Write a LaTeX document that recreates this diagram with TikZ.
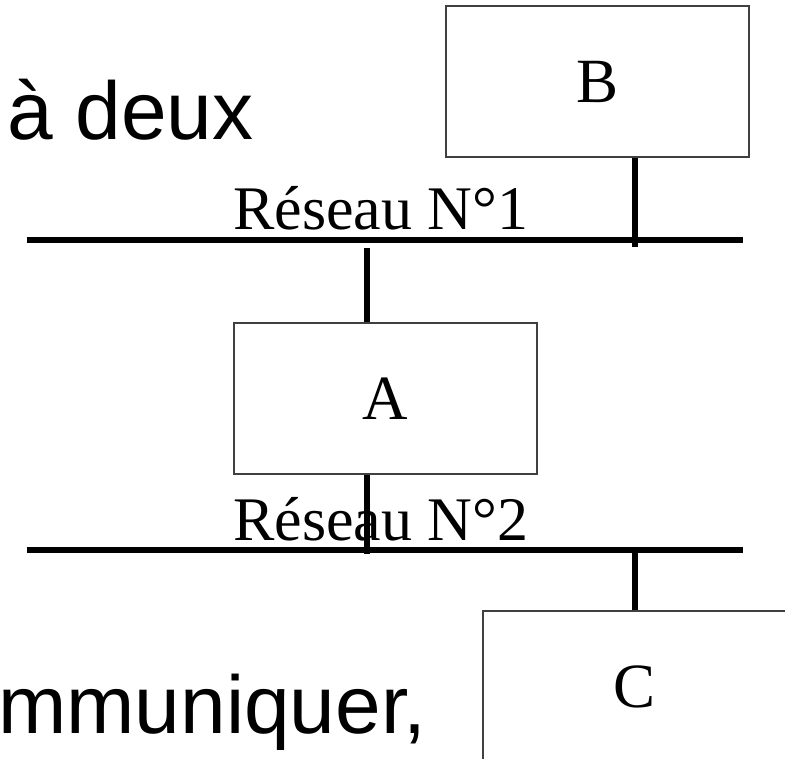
\documentclass[tikz,border=0pt]{standalone}
\usepackage{fontspec}
\setmainfont{Liberation Serif}
\newfontfamily\arialfont{Liberation Sans}
\begin{document}
\begin{tikzpicture}[x=1pt, y=-1pt,
  hostbox/.style={draw=black!75, line width=1.2pt, fill=white,
    minimum width=303pt, minimum height=151pt, inner sep=0pt,
    font=\fontsize{63}{70}\selectfont},
  netlabel/.style={anchor=base west, inner sep=0pt,
    font=\fontsize{62}{70}\selectfont},
  bodytext/.style={inner sep=0pt, font=\arialfont\fontsize{82}{90}\selectfont},
  netline/.style={line width=6.5pt},
  tapline/.style={line width=6.8pt}]
  \useasboundingbox (0,0) rectangle (785,759);
  \clip (0,0) rectangle (785,759);

  % background slide text
  \node[bodytext, anchor=base west] (txtdeux) at (7,140) {à deux};
  \node[bodytext, anchor=base east] (txtcomm) at (427,733) {mmuniquer,};

  % hosts
  \node[hostbox] (B) at (597.5,81.5) {B};
  \node[hostbox] (A) at (385.5,398.5) {A};
  \node[hostbox] (C) at (634.5,686.5) {C};

  % network labels
  \node[netlabel] (lab1) at (233,230) {Réseau N°1};
  \node[netlabel] (lab2) at (233,540) {Réseau N°2};

  % network buses
  \coordinate (n1w) at (27,240);
  \coordinate (n1e) at (743,240);
  \coordinate (n2w) at (27,550);
  \coordinate (n2e) at (743,550);
  \draw[netline] (n1w) -- (n1e);
  \draw[netline] (n2w) -- (n2e);

  % taps between hosts and buses
  \coordinate (tapB) at (635,247);
  \coordinate (tapA1) at (367,248);
  \coordinate (tapA2) at (367,554);
  \coordinate (tapC) at (635,553);
  \draw[tapline] (B.south -| tapB) -- (tapB);
  \draw[tapline] (tapA1) -- (A.north -| tapA1);
  \draw[tapline] (A.south -| tapA2) -- (tapA2);
  \draw[tapline] (tapC) -- (C.north -| tapC);
\end{tikzpicture}
\end{document}
